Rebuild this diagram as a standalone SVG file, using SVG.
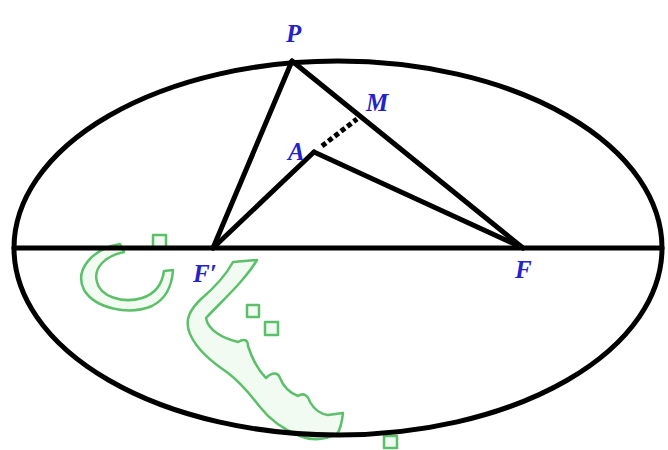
<svg xmlns="http://www.w3.org/2000/svg" width="668" height="450" viewBox="0 0 668 450">
<style>
.ln{stroke:#000;stroke-width:5;fill:none;stroke-linecap:round;stroke-linejoin:round}
.lbl{font-family:"Liberation Serif","Times New Roman",serif;font-weight:bold;font-style:italic;font-size:25px;fill:#2323c8}
.wm{stroke:#5cbf6a;stroke-width:2.5;fill:#f1fbf1;stroke-linejoin:round}
</style>
<rect width="668" height="450" fill="#fff"/>
<g id="watermark">
<path class="wm" d="M120,244 C92,249 74,270 84,290 C95,308 128,316 152,306 C166,299 172,285 173,270 L164,271 C162,285 155,294 142,298 C122,304 100,296 97,282 C93,268 105,256 124,252 Z"/>
<rect class="wm" x="153" y="235" width="13" height="13"/>
<path class="wm" d="M233,262 L257,260 C245,280 225,298 206,318 C208,330 222,338 238,342 C244,338 248,340 248,346 C252,358 258,370 266,378 C272,372 278,372 280,378 C284,388 290,393 298,396 C304,392 308,396 310,402 C314,409 320,414 328,415 L343,413 C342,422 340,430 337,434 C325,440 312,441 300,436 C285,430 270,420 260,407 C250,394 240,382 228,373 C212,362 197,350 190,334 C184,320 190,310 200,300 C214,288 226,275 233,262 Z"/>
<rect class="wm" x="247" y="305" width="12" height="12"/>
<rect class="wm" x="265" y="322" width="13" height="13"/>
<rect class="wm" x="384" y="436" width="13" height="12"/>
</g>
<g id="ellipse">
<ellipse class="ln" cx="338" cy="248" rx="324" ry="187"/>
</g>
<g id="connectors">
<line class="ln" x1="14" y1="248" x2="662" y2="248"/>
<line class="ln" x1="292" y1="61" x2="213" y2="248"/>
<line class="ln" x1="292" y1="61" x2="523" y2="248"/>
<line class="ln" x1="213" y1="248" x2="314" y2="152"/>
<line class="ln" x1="314" y1="152" x2="523" y2="248"/>
<line x1="322" y1="146" x2="357" y2="119" stroke="#000" stroke-width="5" stroke-dasharray="5,3"/>
</g>
<g id="P"><text class="lbl" x="286" y="42">P</text></g>
<g id="M"><text class="lbl" x="366" y="111">M</text></g>
<g id="A"><text class="lbl" x="288" y="160">A</text></g>
<g id="Fp"><text class="lbl" x="193" y="282">F′</text></g>
<g id="F"><text class="lbl" x="515" y="278">F</text></g>
</svg>
